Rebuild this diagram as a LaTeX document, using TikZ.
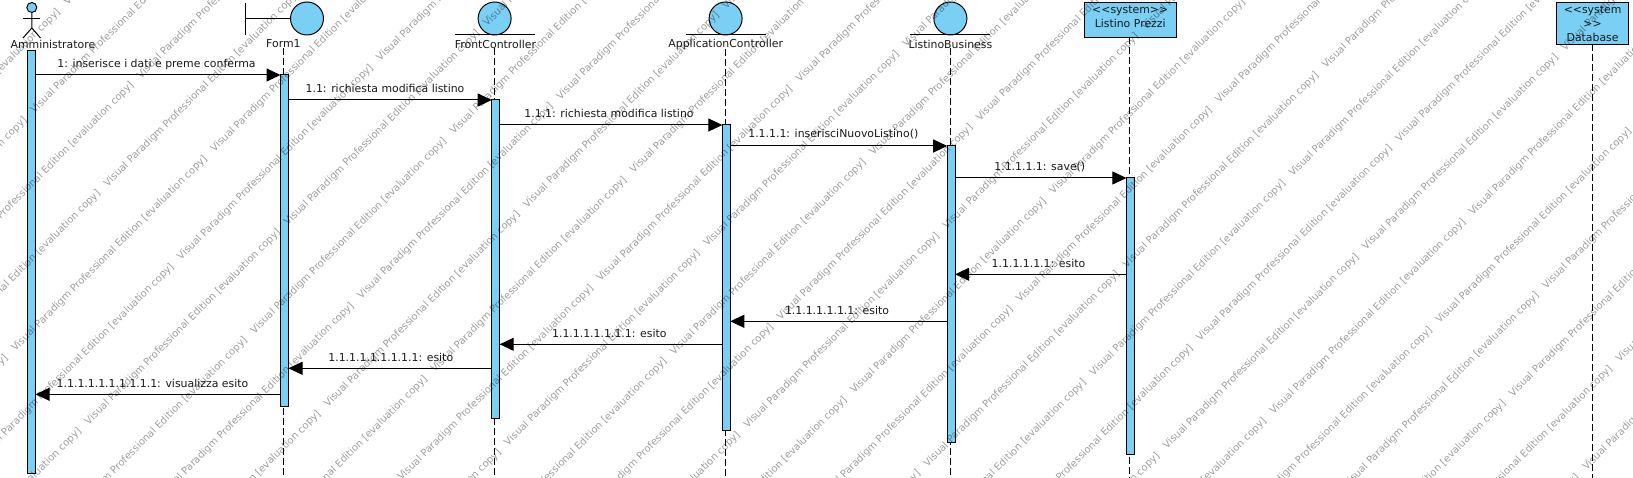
\documentclass[tikz,border=0pt]{standalone}
\usepackage{fontspec}
\setmainfont{DejaVu Sans}
\usetikzlibrary{arrows.meta}
\definecolor{vpblue}{HTML}{7ACFF5}

\tikzset{
    every node/.style={inner sep=0pt, outer sep=0pt},
    label/.style={font=\fontsize{10.9}{14}\selectfont, text=black!90, align=center},
    msgtext/.style={label, yshift=-1pt},
    head/.style={circle, draw, fill=vpblue, minimum size=33pt},
    activation/.style={draw, fill=vpblue, anchor=north, minimum width=8pt},
    sysbox/.style={draw, fill=vpblue},
    lifeline/.style={dash pattern=on 7pt off 3pt},
    msg/.style={-{Triangle[length=14pt,width=13pt]}},
    wmark/.style={font=\fontsize{10}{12}\selectfont, rotate=45, anchor=base west, text=black, text opacity=0.38}
}

\begin{document}
\begin{tikzpicture}[x=1pt, y=-1pt, line width=1pt]
    \useasboundingbox (0,0) rectangle (1633,478);

    \node[circle, draw, fill=vpblue, minimum size=10pt] (hAmm) at (31.8,7.5) {};
    \draw (hAmm.south) -- (31.8,28) -- (23,38);
    \draw (31.8,28) -- (40.5,38);
    \draw (22.5,18.3) -- (40.4,18.3);

    \node[head] (cForm) at (307,18.5) {};
    \draw (cForm.west) -- (245.7,18.5);
    \draw (245.7,2.7) -- (245.7,35);

    \node[head] (cFront) at (494.6,18.5) {};
    \draw (454.6,35) -- (534.6,35);
    \node[head] (cApp) at (725.6,18.5) {};
    \draw (685.6,35) -- (765.6,35);
    \node[head] (cBus) at (950.4,18.5) {};
    \draw (910.4,35) -- (990.4,35);

    \node[label] (lAmm) at (52.9,44) {Amministratore};
    \node[label] (lForm) at (283.4,44) {Form1};
    \node[label] (lFront) at (495.5,44) {FrontController};
    \node[label] (lApp) at (725.7,44) {ApplicationController};
    \node[label] (lBus) at (950.4,44) {ListinoBusiness};

    \node[sysbox, minimum width=92pt, minimum height=34.6pt] (lPrezzi) at (1130.2,20) {};
    \node[label] (tPrezzi) at (1130.2,16.5) {{<}{<}system{>}{>}\\Listino Prezzi};
    \node[sysbox, minimum width=72.3pt, minimum height=41.6pt] (lDb) at (1592.6,23.5) {};
    \node[label] (tDb) at (1592.6,23.5) {{<}{<}system\\{>}{>}\\Database};

    \coordinate (eForm) at (283.6,478);
    \coordinate (eFront) at (494.7,478);
    \coordinate (eApp) at (725.3,478);
    \coordinate (eBus) at (950.2,478);
    \coordinate (ePrezzi) at (1129.9,478);
    \coordinate (eDb) at (1592.7,478);
    \foreach \n/\e in {lForm/eForm, lFront/eFront, lApp/eApp, lBus/eBus, lPrezzi/ePrezzi, lDb/eDb}
        \draw[lifeline] (\e |- \n.south) -- (\e);

    \node[activation, minimum height=422.7pt] (aAmm) at (31.6,51) {};
    \node[activation, minimum height=331.7pt] (aForm) at (284.5,75) {};
    \node[activation, minimum height=318pt] (aFront) at (495.7,100) {};
    \node[activation, minimum height=305.7pt] (aApp) at (726.3,125) {};
    \node[activation, minimum height=296.7pt] (aBus) at (951.2,146) {};
    \node[activation, minimum height=276.3pt] (aPrezzi) at (1130.4,178) {};

    \draw[msg] (aAmm.east |- 0,75) -- (aForm.west |- 0,75);
    \draw[msg] (aForm.east |- 0,100) -- (aFront.west |- 0,100);
    \draw[msg] (aFront.east |- 0,125) -- (aApp.west |- 0,125);
    \draw[msg] (aApp.east |- 0,146) -- (aBus.west |- 0,146);
    \draw[msg] (aBus.east |- 0,178) -- (aPrezzi.west |- 0,178);
    \draw[msg] (aPrezzi.west |- 0,274.3) -- (aBus.east |- 0,274.3);
    \draw[msg] (aBus.west |- 0,321.3) -- (aApp.east |- 0,321.3);
    \draw[msg] (aApp.west |- 0,344.3) -- (aFront.east |- 0,344.3);
    \draw[msg] (aFront.west |- 0,368.3) -- (aForm.east |- 0,368.3);
    \draw[msg] (aForm.west |- 0,394.3) -- (aAmm.east |- 0,394.3);

    \node[msgtext] (m1) at (156.5,63) {1: inserisce i dati e preme conferma};
    \node[msgtext] (m2) at (385,87) {1.1: richiesta modifica listino};
    \node[msgtext] (m3) at (609,112) {1.1.1: richiesta modifica listino};
    \node[msgtext] (m4) at (833.3,133) {1.1.1.1: inserisciNuovoListino()};
    \node[msgtext] (m5) at (1039.8,165.6) {1.1.1.1.1: save()};
    \node[msgtext] (m6) at (1038.5,262.3) {1.1.1.1.1.1: esito};
    \node[msgtext] (m7) at (837,309.3) {1.1.1.1.1.1.1: esito};
    \node[msgtext] (m8) at (609.3,332) {1.1.1.1.1.1.1.1: esito};
    \node[msgtext] (m9) at (390.8,356) {1.1.1.1.1.1.1.1.1: esito};
    \node[msgtext] (m10) at (152.5,382) {1.1.1.1.1.1.1.1.1.1: visualizza esito};

    \begin{scope}
        \clip (0,0) rectangle (1633,478);
        \foreach \s/\o in {367/62, 295/319}
            \foreach \k in {-4,...,14}
                \foreach \j in {-3,...,4}
                    \node[wmark] (wm\o-\k-\j) at ({(\s+146.85*\k+\o+398.4*\j)/2},{(\s+146.85*\k-\o-398.4*\j)/2})
                        {Visual Paradigm Professional Edition [evaluation copy]};
    \end{scope}
\end{tikzpicture}
\end{document}
